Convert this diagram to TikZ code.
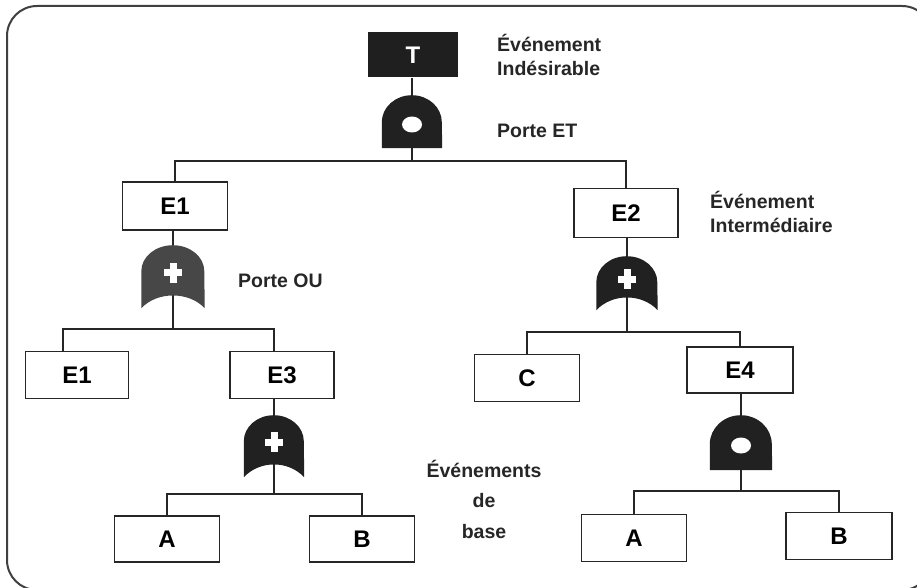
\documentclass[tikz,border=0pt]{standalone}
\usepackage{fontspec}
\setmainfont{Liberation Sans}
\usetikzlibrary{calc}

\tikzset{
  evbox/.style={draw=black!85, line width=1.6pt, fill=white, inner sep=0pt,
    font=\fontsize{24}{24}\selectfont\bfseries},
  topbox/.style={fill=black!88, text=white, inner sep=0pt,
    font=\fontsize{24}{24}\selectfont\bfseries},
  gatebox/.style={inner sep=0pt, draw=none},
  wire/.style={draw=black!85, line width=1.3pt},
  note/.style={font=\fontsize{19.5}{23.5}\selectfont\bfseries, text=black!85,
    inner sep=0pt, align=left},
  gatefill/.style={fill=black!87},
  frame/.style={draw=black!75, line width=2pt, rounded corners=30pt}
}

% AND gate: dome on a flat base, white hole
\newcommand{\etgate}[1]{%
  \fill[gatefill] (#1.south west) -- ([yshift=26pt]#1.south west)
    arc[start angle=180, end angle=0, x radius=0.5*\gw, y radius=\gh-26pt]
    -- (#1.south east) -- cycle;
  \fill[white] ([yshift=-3pt]#1.center) ellipse[x radius=10pt, y radius=8pt];}

% OR gate: dome with a concave base, white cross
\newcommand{\ougate}[2]{%
  \fill[#2] (#1.south west) -- ([yshift=\gh-26pt]#1.south west)
    arc[start angle=180, end angle=0, x radius=0.5*\gw, y radius=26pt]
    -- (#1.south east)
    .. controls ([xshift=-16pt,yshift=17pt]#1.south east)
       and ([xshift=16pt,yshift=17pt]#1.south west) .. (#1.south west) -- cycle;
  \fill[white] ([xshift=-3.5pt,yshift=-6pt]#1.center) rectangle ([xshift=3.5pt,yshift=14pt]#1.center);
  \fill[white] ([xshift=-9pt,yshift=0.5pt]#1.center) rectangle ([xshift=9pt,yshift=7.5pt]#1.center);}

\begin{document}
\begin{tikzpicture}[x=1pt, y=-1pt]
\useasboundingbox (0,0) rectangle (917,588);
% outer frame, running off the right edge
\begin{scope}
  \clip (0,0) rectangle (917,588);
  \draw[frame] (7,6) rectangle (932,590);
\end{scope}

% events
\node[topbox, minimum width=90pt, minimum height=45pt] (T) at (413,55) {T};
\node[evbox, minimum width=105pt, minimum height=48pt] (E1) at (175,206) {E1};
\node[evbox, minimum width=104pt, minimum height=49pt] (E2) at (626,213) {E2};
\node[evbox, minimum width=103pt, minimum height=47pt] (E1b) at (77,375) {E1};
\node[evbox, minimum width=104pt, minimum height=47pt] (E3) at (282,375) {E3};
\node[evbox, minimum width=105pt, minimum height=47pt] (C) at (527,378) {C};
\node[evbox, minimum width=106pt, minimum height=46pt] (E4) at (740,370) {E4};
\node[evbox, minimum width=105pt, minimum height=46pt] (A1) at (167,539) {A};
\node[evbox, minimum width=105pt, minimum height=46pt] (B1) at (362,539) {B};
\node[evbox, minimum width=105pt, minimum height=47pt] (A2) at (634,538) {A};
\node[evbox, minimum width=106pt, minimum height=47pt] (B2) at (839,536) {B};

% gate placeholders
\node[gatebox, minimum width=60pt, minimum height=53pt] (g0) at (412,121.5) {};
\node[gatebox, minimum width=63pt, minimum height=63pt] (g1) at (173,276.5) {};
\node[gatebox, minimum width=61pt, minimum height=54pt] (g2) at (627,283) {};
\node[gatebox, minimum width=60pt, minimum height=62pt] (g3) at (274,446) {};
\node[gatebox, minimum width=62pt, minimum height=55pt] (g4) at (741,442.5) {};

% bus points
\coordinate (b0) at (412,161);
\coordinate (b1) at (173,329);
\coordinate (b2) at (627,332);
\coordinate (b3) at (274,494);
\coordinate (b4) at (741,491);

% connectors (drawn first, gates cover them)
\draw[wire] (g0.north |- T.south) -- (g0.north);
\draw[wire] (g0.south) -- (b0);
\draw[wire] (b0) -| (E1.north);
\draw[wire] (b0) -| (E2.north);
\draw[wire] (g1.north |- E1.south) -- (g1.north);
\draw[wire] (g1.north) -- (b1);
\draw[wire] (b1) -| ([xshift=-14pt]E1b.north);
\draw[wire] (b1) -| (g3 |- E3.north);
\draw[wire] (g2.north |- E2.south) -- (g2.north);
\draw[wire] (g2.north) -- (b2);
\draw[wire] (b2) -| (C.north);
\draw[wire] (b2) -| (E4.north);
\draw[wire] (g3.north |- E3.south) -- (g3.north);
\draw[wire] (g3.north) -- (b3);
\draw[wire] (b3) -| (A1.north);
\draw[wire] (b3) -| (B1.north);
\draw[wire] (g4.north |- E4.south) -- (g4.north);
\draw[wire] (g4.south) -- (b4);
\draw[wire] (b4) -| (A2.north);
\draw[wire] (b4) -| (B2.north);

% gates
\def\gw{60pt}\def\gh{53pt}\etgate{g0}
\def\gw{62pt}\def\gh{55pt}\etgate{g4}
\def\gw{63pt}\def\gh{63pt}\ougate{g1}{black!72}
\def\gw{61pt}\def\gh{54pt}\ougate{g2}{black!87}
\def\gw{60pt}\def\gh{62pt}\ougate{g3}{black!87}

% annotations
\node[note, anchor=west] (nT) at (497,55) {Événement\\Indésirable};
\node[note, anchor=west] (nET) at (497,131) {Porte ET};
\node[note, anchor=west] (nOU) at (238,281) {Porte OU};
\node[note, anchor=west] (nI) at (710,212) {Événement\\Intermédiaire};
\node[note, align=center] (nB) at (484,499) {Événements\\[7pt]de\\[7pt]base};
\end{tikzpicture}
\end{document}
